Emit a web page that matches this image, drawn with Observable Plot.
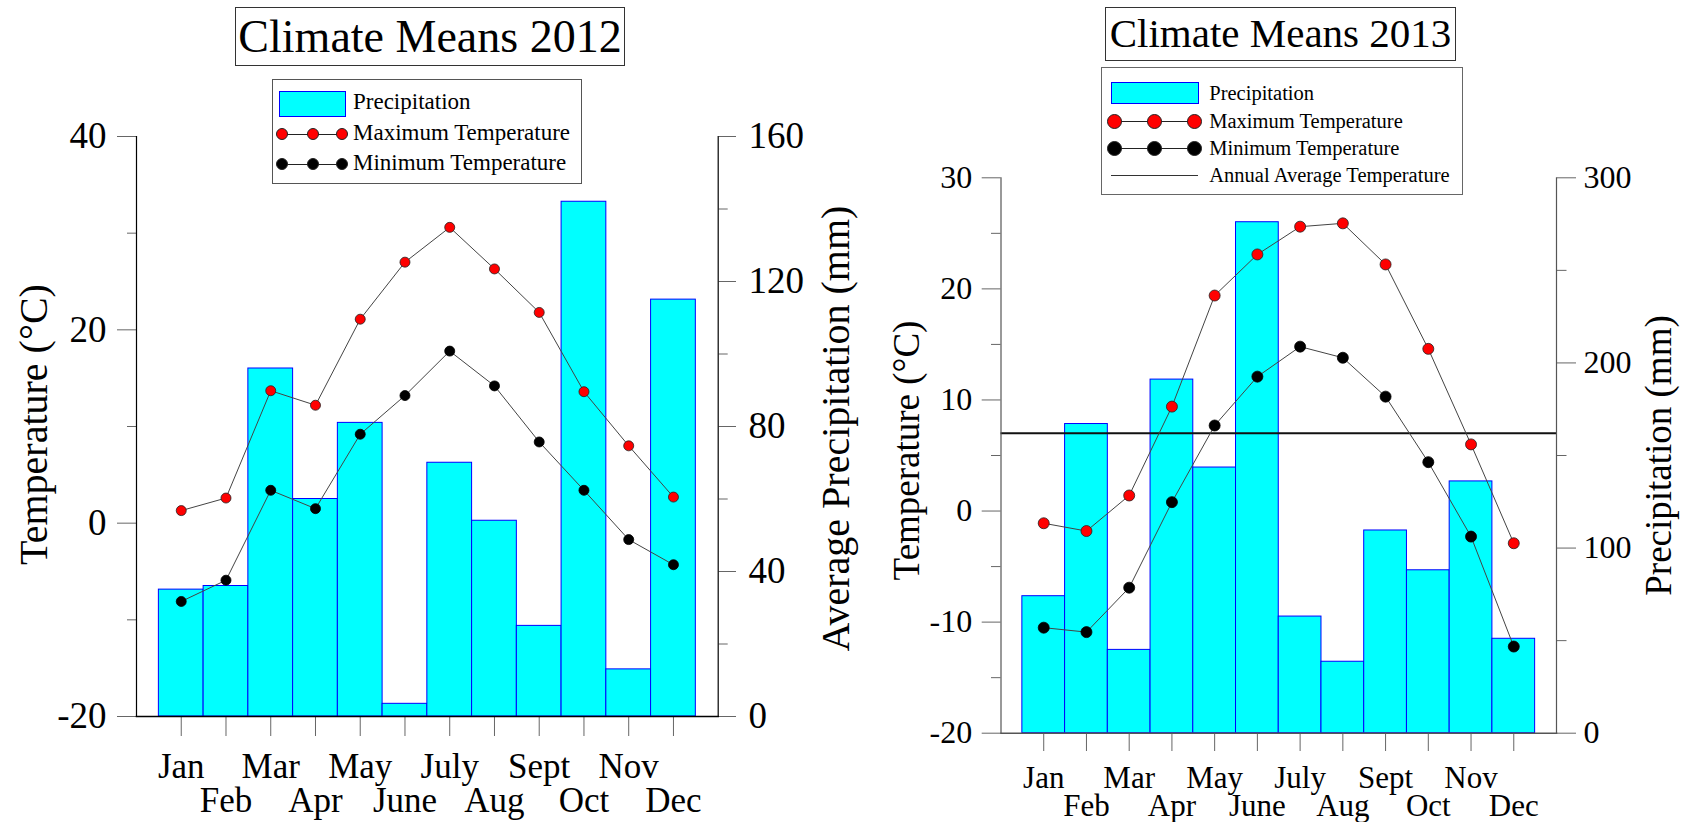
<!DOCTYPE html>
<html>
<head>
<meta charset="utf-8">
<script src="https://cdn.jsdelivr.net/npm/d3@7"></script>
<script src="https://cdn.jsdelivr.net/npm/@observablehq/plot@0.6"></script>
<style>
  html, body { margin: 0; padding: 0; background: #fff; }
  body { font-family: "Liberation Serif", "Times New Roman", serif; color: #000; }
  #root { position: relative; width: 1686px; height: 822px; overflow: hidden; background: #fff; }
  .panel { position: absolute; top: 0; width: 843px; height: 822px; }
  .panel svg { position: absolute; left: 0; top: 0; overflow: visible; }
  .titlebox { position: absolute; box-sizing: border-box; border: 1px solid #333; background: #fff; text-align: center; white-space: nowrap; }
  .legend { position: absolute; box-sizing: border-box; border: 1px solid #666; background: #fff; }
  .legend .sw { position: absolute; box-sizing: border-box; background: #00FFFF; border: 1px solid #0000FF; }
  .legend .ln { position: absolute; height: 1px; background: #222; }
  .legend .dt { position: absolute; box-sizing: border-box; border-radius: 50%; border: 1px solid #222; }
  .legend .tx { position: absolute; white-space: nowrap; line-height: 1; }
</style>
</head>
<body>
<div id="root"></div>
<script>
// ---------- data ----------
const months = ["Jan", "Feb", "Mar", "Apr", "May", "June", "July", "Aug", "Sept", "Oct", "Nov", "Dec"];

// 2012
const precip2012 = [35, 36, 96, 60, 81, 3.5, 70, 54, 25, 142, 13, 115];
const tmax2012 = [1.3, 2.6, 13.7, 12.2, 21.1, 27.0, 30.6, 26.3, 21.8, 13.6, 8.0, 2.7];
const tmin2012 = [-8.1, -5.9, 3.4, 1.5, 9.2, 13.2, 17.8, 14.2, 8.4, 3.4, -1.7, -4.3];
const tempTicks2012 = [-20, 0, 20, 40];
const tempMinor2012 = [-10, 10, 30];
const precipTicks2012 = [0, 40, 80, 120, 160];
const precipMinor2012 = [20, 60, 100, 140];

// 2013
const precip2013 = [74, 167, 45, 191, 143.5, 276, 63, 38.6, 109.5, 88, 136, 51];
const tmax2013 = [-1.1, -1.8, 1.4, 9.4, 19.4, 23.1, 25.6, 25.9, 22.2, 14.6, 6.0, -2.9];
const tmin2013 = [-10.5, -10.9, -6.9, 0.8, 7.7, 12.1, 14.8, 13.8, 10.3, 4.4, -2.3, -12.2];
const annualAvg2013 = 7.0;
const tempTicks2013 = [-20, -10, 0, 10, 20, 30];
const tempMinor2013 = [-15, -5, 5, 15, 25];
const precipTicks2013 = [0, 100, 200, 300];
const precipMinor2013 = [50, 150, 250];

// ---------- drawing ----------
const FONT = '"Liberation Serif", "Times New Roman", serif';

function drawPanel(cfg) {
  const rows = months.map((label, i) => ({m: i + 1, label, p: cfg.precip[i], tmax: cfg.tmax[i], tmin: cfg.tmin[i]}));
  const [t0, t1] = cfg.tDomain;
  const p2t = p => t0 + p * (t1 - t0) / cfg.pMax;
  const t2p = t => (t - t0) * cfg.pMax / (t1 - t0);

  const marks = [
    Plot.rect(rows, {
      x1: d => d.m - 0.5, x2: d => d.m + 0.5,
      y1: () => t0, y2: d => p2t(d.p),
      fill: "#00FFFF", stroke: "#0000FF", strokeWidth: 1
    })
  ];
  if (cfg.annual != null) {
    marks.push(Plot.ruleY([cfg.annual], {stroke: "#111", strokeWidth: 2}));
  }
  marks.push(
    Plot.line(rows, {x: "m", y: "tmax", stroke: "#444", strokeWidth: 1}),
    Plot.line(rows, {x: "m", y: "tmin", stroke: "#444", strokeWidth: 1}),
    Plot.dot(rows, {x: "m", y: "tmax", r: cfg.dotR, fill: "#FF0000", stroke: "#222", strokeWidth: 0.8}),
    Plot.dot(rows, {x: "m", y: "tmin", r: cfg.dotR, fill: "#000", stroke: "#000", strokeWidth: 0.8}),
    // axes
    Plot.axisY(cfg.tTicks, {anchor: "left", tickSize: cfg.lTick, tickPadding: cfg.lPad, fontSize: cfg.tickFont,
      stroke: cfg.tickColor, fill: "#000", label: null, tickFormat: d => String(d)}),
    Plot.axisY(cfg.tMinor, {anchor: "left", tickSize: cfg.lMinor, stroke: cfg.tickColor, label: null, tickFormat: () => ""}),
    Plot.axisY(cfg.pTicks.map(p2t), {anchor: "right", tickSize: cfg.rTick, tickPadding: cfg.rPad, fontSize: cfg.tickFont,
      stroke: cfg.tickColor, fill: "#000", label: null, tickFormat: t => String(Math.round(t2p(t)))}),
    Plot.axisY(cfg.pMinor.map(p2t), {anchor: "right", tickSize: cfg.rMinor, stroke: cfg.tickColor, label: null, tickFormat: () => ""}),
    Plot.axisX(months.map((_, i) => i + 1), {tickSize: cfg.xTick, stroke: cfg.tickColor, label: null, tickFormat: () => ""}),
    Plot.frame({anchor: "left", stroke: cfg.axisColor, strokeWidth: 1.2}),
    Plot.frame({anchor: "right", stroke: cfg.axisColor, strokeWidth: 1.2}),
    Plot.frame({anchor: "bottom", stroke: cfg.axisColor, strokeWidth: 1.5}),
    // month labels in two staggered rows
    Plot.text(rows.filter(d => d.m % 2 === 1), {x: "m", text: "label", frameAnchor: "bottom", lineAnchor: "bottom",
      dy: cfg.row1, fontSize: cfg.xFont, fill: "#000"}),
    Plot.text(rows.filter(d => d.m % 2 === 0), {x: "m", text: "label", frameAnchor: "bottom", lineAnchor: "bottom",
      dy: cfg.row2, fontSize: cfg.xFont, fill: "#000"}),
    // axis titles
    Plot.text([cfg.leftTitle], {text: d => d, frameAnchor: "left", textAnchor: "middle", lineAnchor: "middle",
      rotate: -90, dx: cfg.ltDx, dy: cfg.ltDy, fontSize: cfg.titleFont, fill: "#000"}),
    Plot.text([cfg.rightTitle], {text: d => d, frameAnchor: "right", textAnchor: "middle", lineAnchor: "middle",
      rotate: -90, dx: cfg.rtDx, dy: cfg.rtDy, fontSize: cfg.titleFont, fill: "#000"})
  );

  const svg = Plot.plot({
    width: 843, height: 822,
    marginLeft: cfg.margin[3], marginRight: cfg.margin[1], marginTop: cfg.margin[0], marginBottom: cfg.margin[2],
    x: {type: "linear", domain: [0, 13]},
    y: {type: "linear", domain: cfg.tDomain},
    style: {fontFamily: FONT, background: "transparent", color: "#000", overflow: "visible"},
    marks
  });
  return svg;
}

function makeTitle(parent, text, box, fontSize) {
  const d = document.createElement("div");
  d.className = "titlebox";
  Object.assign(d.style, {left: box[0] + "px", top: box[1] + "px", width: box[2] + "px", height: box[3] + "px",
    fontSize: fontSize + "px", lineHeight: (box[3] - 2) + "px"});
  d.textContent = text;
  parent.appendChild(d);
}

function makeLegend(parent, L) {
  const box = document.createElement("div");
  box.className = "legend";
  Object.assign(box.style, {left: L.box[0] + "px", top: L.box[1] + "px", width: L.box[2] + "px", height: L.box[3] + "px",
    borderColor: L.border});
  const add = (cls, st, txt) => {
    const e = document.createElement("div");
    e.className = cls;
    for (const k in st) e.style[k] = typeof st[k] === "number" ? st[k] + "px" : st[k];
    if (txt) e.textContent = txt;
    box.appendChild(e);
  };
  const text = (label, baseline) => add("tx", {left: L.textX, top: baseline - 0.8375 * L.font, fontSize: L.font}, label);
  // precipitation
  add("sw", {left: L.sw[0], top: L.sw[1], width: L.sw[2], height: L.sw[3]});
  text("Precipitation", L.base[0]);
  // dot rows
  [["Maximum Temperature", "#FF0000", L.dotY[0], L.base[1]], ["Minimum Temperature", "#000", L.dotY[1], L.base[2]]]
    .forEach(([label, color, cy, base]) => {
      add("ln", {left: L.dotX[0], top: cy - 0.5, width: L.dotX[2] - L.dotX[0]});
      L.dotX.forEach(cx => add("dt", {left: cx - L.r, top: cy - L.r, width: 2 * L.r, height: 2 * L.r, background: color}));
      text(label, base);
    });
  if (L.avgLine) {
    add("ln", {left: L.avgLine[0], top: L.avgLine[2] - 0.5, width: L.avgLine[1] - L.avgLine[0], background: "#333"});
    text("Annual Average Temperature", L.base[3]);
  }
  parent.appendChild(box);
}

const root = document.getElementById("root");

// ---- 2012 panel ----
const p1 = document.createElement("div");
p1.className = "panel"; p1.style.left = "0px";
root.appendChild(p1);
p1.appendChild(drawPanel({
  precip: precip2012, tmax: tmax2012, tmin: tmin2012, annual: null,
  tDomain: [-20, 40], pMax: 160,
  tTicks: tempTicks2012, tMinor: tempMinor2012, pTicks: precipTicks2012, pMinor: precipMinor2012,
  margin: [136, 125.3, 106, 136],
  lTick: 19, lMinor: 9, lPad: 11, rTick: 17.3, rMinor: 9, rPad: 13, xTick: 20,
  tickFont: 37, xFont: 35, titleFont: 40, dotR: 5,
  row1: 61.7, row2: 95.7,
  tickColor: "#666", axisColor: "#000",
  leftTitle: "Temperature (°C)", ltDx: -102, ltDy: -2,
  rightTitle: "Average Precipitation (mm)", rtDx: 118, rtDy: 2
}));
makeTitle(p1, "Climate Means 2012", [235, 7, 390, 59], 46);
makeLegend(p1, {
  box: [271.5, 79, 310.5, 105], border: "#555", font: 23, textX: 80.5,
  sw: [6.5, 11, 67, 26], base: [29.7, 60.3, 90.3],
  dotX: [9.5, 40.5, 69.5], dotY: [54.3, 84.3], r: 6
});

// ---- 2013 panel ----
const p2 = document.createElement("div");
p2.className = "panel"; p2.style.left = "843px";
root.appendChild(p2);
p2.appendChild(drawPanel({
  precip: precip2013, tmax: tmax2013, tmin: tmin2013, annual: annualAvg2013,
  tDomain: [-20, 30], pMax: 300,
  tTicks: tempTicks2013, tMinor: tempMinor2013, pTicks: precipTicks2013, pMinor: precipMinor2013,
  margin: [177.3, 130, 89.3, 157.5],
  lTick: 18.8, lMinor: 9.5, lPad: 10, rTick: 19, rMinor: 9.5, rPad: 8, xTick: 18.3,
  tickFont: 32, xFont: 31, titleFont: 37, dotR: 5.5,
  row1: 55, row2: 82.3,
  tickColor: "#666", axisColor: "#555",
  leftTitle: "Temperature (°C)", ltDx: -94, ltDy: -5,
  rightTitle: "Precipitation (mm)", rtDx: 103, rtDy: 0
}));
makeTitle(p2, "Climate Means 2013", [262, 7.3, 351, 53.4], 41);
makeLegend(p2, {
  box: [258, 66.7, 361.7, 128.3], border: "#666", font: 20.5, textX: 107.3,
  sw: [9, 14, 88.3, 22.6], base: [32.3, 60, 87.6, 114],
  dotX: [12.3, 52.3, 92.3], dotY: [54.3, 81], r: 7.5,
  avgLine: [9, 95.7, 108.3]
});
</script>
</body>
</html>
